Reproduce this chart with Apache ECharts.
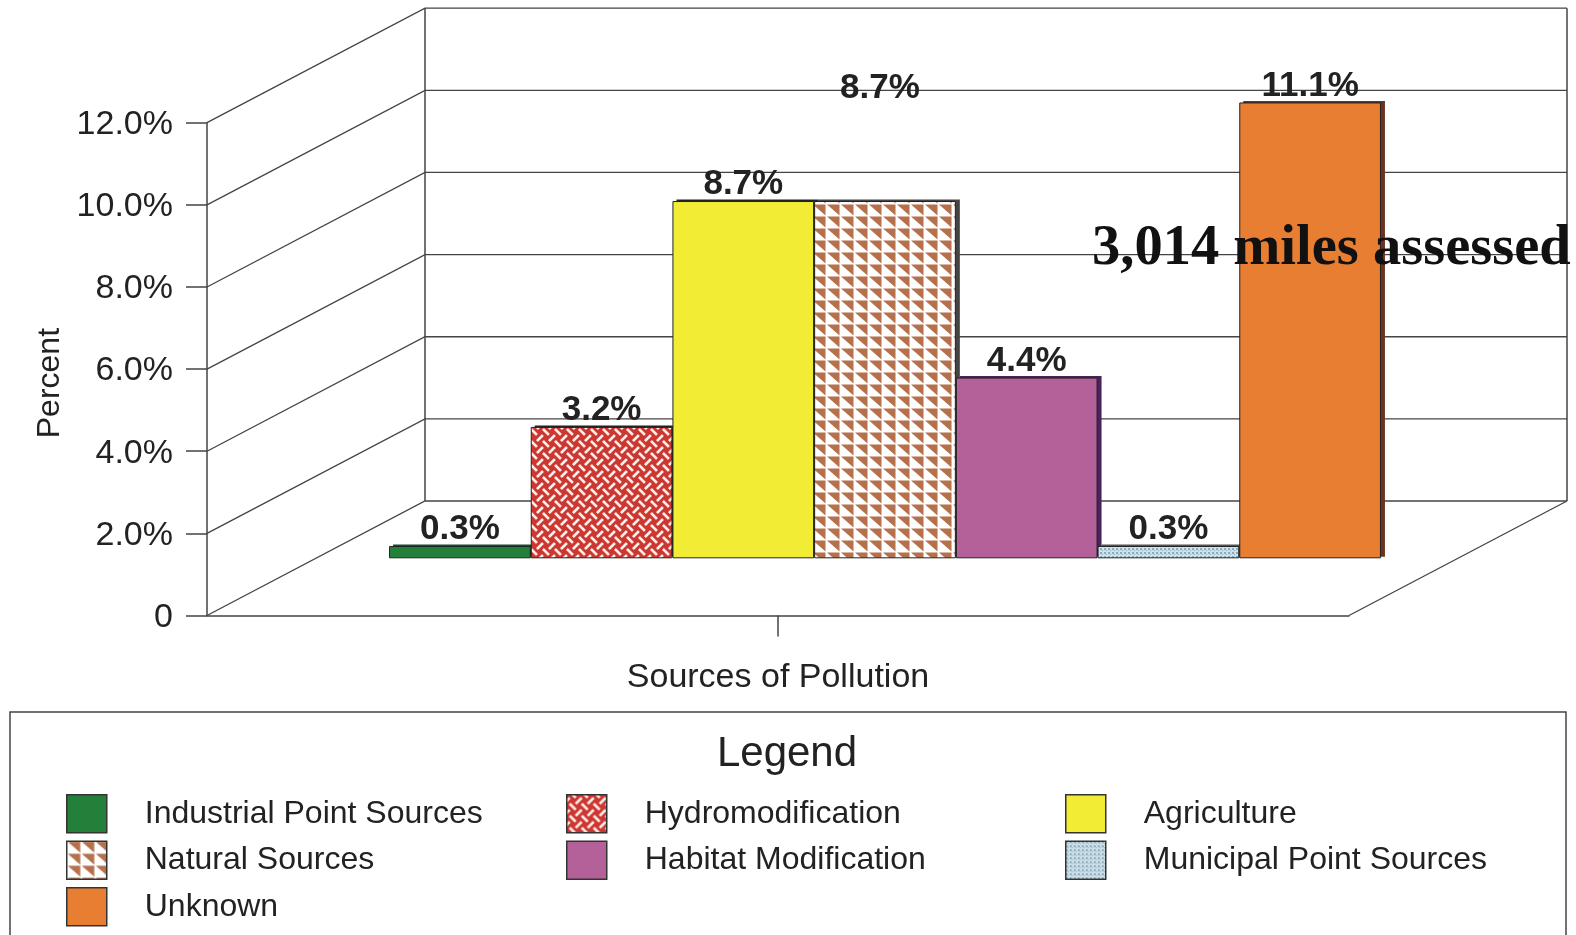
<!DOCTYPE html>
<html><head><meta charset="utf-8">
<style>html,body{margin:0;padding:0;background:#fff;overflow:hidden}#c{width:1576px;height:935px}</style>
<script src="https://cdn.jsdelivr.net/npm/echarts@6/dist/echarts.min.js"></script>
</head><body><div id="c"></div>
<script>
const categoryLabels = ['Sources of Pollution'];
const seriesNames = ['Industrial Point Sources','Hydromodification','Agriculture','Natural Sources','Habitat Modification','Municipal Point Sources','Unknown'];
const seriesValues = [0.3,3.2,8.7,8.7,4.4,0.3,11.1];
const valueTicks = [0,2,4,6,8,10,12];
const legendCol1 = ['Industrial Point Sources','Natural Sources','Unknown'];
const legendCol2 = ['Hydromodification','Habitat Modification'];
const legendCol3 = ['Agriculture','Municipal Point Sources'];

function cell(w,h,draw){const c=document.createElement('canvas');c.width=w;c.height=h;const x=c.getContext('2d');x.fillStyle='#fff';x.fillRect(0,0,w,h);draw(x);return {image:c,repeat:'repeat'};}
// plain weave turned 45 degrees: white strands on red, supersampled per pixel
const weave=cell(12,12,x=>{
  const T=12,SS=4,w=0.16,bg=[205,55,50],fg=[252,238,232];
  for(let py=0;py<T;py++)for(let px=0;px<T;px++){
    let hit=0;
    for(let sy=0;sy<SS;sy++)for(let sx=0;sx<SS;sx++){
      const X=px+(sx+.5)/SS,Y=py+(sy+.5)/SS;
      const a=(X+Y)/T,b=(X-Y)/T+2;
      const i=Math.floor(a),j=Math.floor(b),fa=a-i,fb=b-j;
      const on=((i+j)%2===0)?Math.abs(fb-.5)<w:Math.abs(fa-.5)<w;
      if(on)hit++;
    }
    const t=hit/(SS*SS);
    x.fillStyle=`rgb(${bg.map((c,k)=>Math.round(c+(fg[k]-c)*t)).join(',')})`;
    x.fillRect(px,py,1,1);
  }
});
const tri=cell(14,12,x=>{
  x.fillStyle='#b5714c';x.beginPath();x.moveTo(1,0.5);x.lineTo(13.5,0.5);x.lineTo(13.5,11.5);x.closePath();x.fill();
});
const dots=cell(4,4,x=>{
  x.fillStyle='#cfe2ea';x.fillRect(0,0,4,4);x.fillStyle='#8aaabd';x.fillRect(0,0,2,2);x.fillRect(2,2,1,1);
});
const fills=['#23803a',weave,'#f2ec35',tri,'#b4619a',dots,'#e87e32'];
const sides=['#14502a','#222','#222','#444','#4a2458','#555','#6b3320'];

const grey='#444';
const depth=[218,-114.5];
const sideBars=seriesNames.map((n,i)=>({
  name:n+' side',type:'bar',xAxisIndex:2,yAxisIndex:2,barGap:0,barWidth:141.7,z:2,silent:true,
  data:[seriesValues[i]],itemStyle:{color:sides[i]}
}));
const bars=seriesNames.map((n,i)=>({
  name:n,type:'bar',xAxisIndex:1,yAxisIndex:1,barGap:0,barWidth:141.7,z:3,
  data:[seriesValues[i]],
  itemStyle:{color:fills[i],borderColor:'#222',borderWidth:1},
  label:{show:true,position:'top',distance:-1,formatter:p=>p.value.toFixed(1)+'%',
    fontFamily:'Liberation Sans',fontWeight:'bold',fontSize:35,color:'#222',
    offset:n==='Natural Sources'?[-5,-96]:[0,0]}
}));
const walls={
  type:'custom',xAxisIndex:0,yAxisIndex:0,z:1,silent:true,
  data:valueTicks.map(v=>[0,v]),
  renderItem(params,api){
    const cs=params.coordSys, y=api.coord([0,api.value(1)])[1];
    const L=cs.x, R=cs.x+cs.width;
    const kids=[{type:'polyline',shape:{points:[[L,y],[L+depth[0],y+depth[1]],[R+depth[0],y+depth[1]]]},style:{fill:'none',stroke:grey,lineWidth:1.3}}];
    if(api.value(1)===0){
      const top=cs.y+depth[1];
      kids.push({type:'line',shape:{x1:R,y1:y,x2:R+depth[0],y2:y+depth[1]},style:{stroke:grey,lineWidth:1.3}});
      kids.push({type:'line',shape:{x1:L+depth[0],y1:y+depth[1],x2:L+depth[0],y2:top},style:{stroke:grey,lineWidth:1.5}});
      kids.push({type:'line',shape:{x1:R+depth[0],y1:y+depth[1],x2:R+depth[0],y2:top},style:{stroke:grey,lineWidth:1.5}});
    }
    return {type:'group',children:kids};
  }
};
const legendBase={orient:'vertical',icon:'rect',itemWidth:40,itemHeight:38,itemGap:7,selectedMode:false,top:794,padding:0,
  textStyle:{fontFamily:'Liberation Sans',fontSize:32,lineHeight:32,color:'#222',padding:[6,0,0,33]},
  itemStyle:{borderColor:'#333',borderWidth:1.5}};
const option={
  animation:false,backgroundColor:'#fff',
  title:[
    {text:'Legend',left:787,top:733,textAlign:'center',padding:0,textStyle:{fontFamily:'Liberation Sans',fontWeight:'normal',fontSize:42,color:'#222'}},
    {text:'3,014 miles assessed',left:1092,top:221,padding:0,z:5,textStyle:{fontFamily:'Liberation Serif',fontWeight:'bold',fontSize:56.5,color:'#111'}}
  ],
  grid:[
    {left:207,top:122.7,width:1142,height:492.8},
    {left:314,top:65.5,width:1142,height:492.8},
    {left:318,top:64,width:1142,height:492.8}
  ],
  xAxis:[
    {type:'category',gridIndex:0,data:categoryLabels,
      axisLine:{lineStyle:{color:grey,width:1.5}},axisTick:{show:true,alignWithLabel:true,length:21,lineStyle:{color:grey,width:1.5}},
      axisLabel:{margin:45,fontFamily:'Liberation Sans',fontSize:34,color:'#222'}},
    {type:'category',gridIndex:1,data:categoryLabels,show:false},
    {type:'category',gridIndex:2,data:categoryLabels,show:false}
  ],
  yAxis:[
    {type:'value',gridIndex:0,min:0,max:12,interval:2,name:'Percent',nameLocation:'middle',nameGap:137,
      nameTextStyle:{fontFamily:'Liberation Sans',fontSize:32,color:'#222',padding:[0,28,0,0]},
      axisLine:{show:true,lineStyle:{color:grey,width:1.5}},axisTick:{show:true,length:21,lineStyle:{color:grey,width:1.5}},
      splitLine:{show:false},
      axisLabel:{margin:34,formatter:v=>'{t|'+(v===0?'0':v.toFixed(1)+'%')+'}',
        rich:{t:{fontFamily:'Liberation Sans',fontSize:34,color:'#222',padding:[4,0,0,0]}}}},
    {type:'value',gridIndex:1,min:0,max:12,interval:2,show:false,splitLine:{show:false}},
    {type:'value',gridIndex:2,min:0,max:12,interval:2,show:false,splitLine:{show:false}}
  ],
  legend:[
    Object.assign({},legendBase,{left:66,data:legendCol1}),
    Object.assign({},legendBase,{left:566,data:legendCol2}),
    Object.assign({},legendBase,{left:1065,data:legendCol3})
  ],
  graphic:[{type:'rect',silent:true,z:-1,shape:{x:10,y:712,width:1556,height:260},style:{fill:'none',stroke:'#444',lineWidth:1.5}}],
  series:[walls].concat(sideBars,bars)
};
echarts.init(document.getElementById('c'),null,{renderer:'canvas'}).setOption(option);
</script></body></html>
